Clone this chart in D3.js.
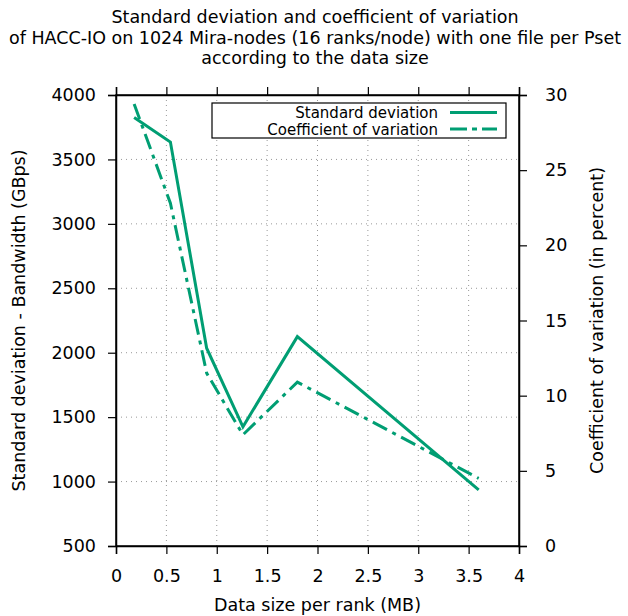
<!DOCTYPE html>
<html>
<head>
<meta charset="utf-8">
<script src="https://cdn.jsdelivr.net/npm/d3@7"></script>
<style>
  body { margin: 0; background: #fff; }
  text { font-family: "DejaVu Sans", sans-serif; fill: #000; }
</style>
</head>
<body>
<div id="chart"></div>
<script>
// data
const dataSize = [0.18, 0.54, 0.9, 1.26, 1.8, 3.6];            // MB per rank
const stdDev = [3825, 3635, 2035, 1425, 2125, 935];             // GBps
const coefVar = [29.4, 22.8, 11.5, 7.4, 10.9, 4.5];             // percent
const xTicks = [0, 0.5, 1, 1.5, 2, 2.5, 3, 3.5, 4];
const yTicks = [500, 1000, 1500, 2000, 2500, 3000, 3500, 4000];
const y2Ticks = [0, 5, 10, 15, 20, 25, 30];
const titleLines = [
  "Standard deviation and coefficient of variation",
  "of HACC-IO on 1024 Mira-nodes (16 ranks/node) with one file per Pset",
  "according to the data size"
];
const seriesNames = ["Standard deviation", "Coefficient of variation"];

const W = 628, H = 616;
const margin = { top: 95, right: 109, bottom: 70, left: 116 };
const width = W - margin.left - margin.right;
const height = H - margin.top - margin.bottom;
const green = "#009e73";
const fs = "17.5px";

const svg = d3.select("#chart").append("svg")
  .attr("width", W).attr("height", H);

// title
svg.append("g").selectAll("text").data(titleLines).enter().append("text")
  .attr("x", W / 2 + 1)
  .attr("y", (d, i) => 23 + i * 20.5)
  .attr("text-anchor", "middle")
  .attr("font-size", fs)
  .text(d => d);

const g = svg.append("g").attr("transform", `translate(${margin.left},${margin.top})`);

const x = d3.scaleLinear().domain([0, 4]).range([0, width]);
const y = d3.scaleLinear().domain([500, 4000]).range([height, 0]);
const y2 = d3.scaleLinear().domain([0, 30]).range([height, 0]);

// dotted grid
g.append("g").selectAll("line").data(xTicks.slice(1, -1)).enter().append("line")
  .attr("x1", d => x(d)).attr("x2", d => x(d))
  .attr("y1", 0).attr("y2", height)
  .attr("stroke", "#999").attr("stroke-width", 1).attr("stroke-dasharray", "1,4");
g.append("g").selectAll("line").data(yTicks.slice(1, -1)).enter().append("line")
  .attr("x1", 0).attr("x2", width)
  .attr("y1", d => y(d)).attr("y2", d => y(d))
  .attr("stroke", "#999").attr("stroke-width", 1).attr("stroke-dasharray", "1,4");

// axes
g.append("g")
  .attr("transform", `translate(0,${height})`)
  .call(d3.axisBottom(x).tickValues(xTicks).tickFormat(d3.format("")).tickSizeOuter(0).tickSize(8).tickPadding(16));
g.append("g")
  .call(d3.axisTop(x).tickValues(xTicks).tickFormat("").tickSizeOuter(0).tickSize(8));
g.append("g")
  .call(d3.axisLeft(y).tickValues(yTicks).tickFormat(d3.format("d")).tickSizeOuter(0).tickSize(8).tickPadding(12));
g.append("g")
  .attr("transform", `translate(${width},0)`)
  .call(d3.axisRight(y2).tickValues(y2Ticks).tickSizeOuter(0).tickSize(8).tickPadding(18));

g.selectAll(".domain").attr("stroke", "#000").attr("stroke-width", 1.5);
g.selectAll(".tick line").attr("stroke", "#000").attr("stroke-width", 1.2);
g.selectAll(".tick text").attr("font-size", fs).attr("font-family", "DejaVu Sans, sans-serif").attr("fill", "#000");

// border
g.append("rect").attr("width", width).attr("height", height)
  .attr("fill", "none").attr("stroke", "#000").attr("stroke-width", 1.5);

// axis labels
svg.append("text")
  .attr("x", margin.left + width / 2).attr("y", 611)
  .attr("text-anchor", "middle").attr("font-size", fs)
  .text("Data size per rank (MB)");
svg.append("text")
  .attr("transform", `translate(25,${margin.top + height / 2}) rotate(-90)`)
  .attr("text-anchor", "middle").attr("font-size", fs)
  .text("Standard deviation - Bandwidth (GBps)");
svg.append("text")
  .attr("transform", `translate(603,${margin.top + height / 2}) rotate(-90)`)
  .attr("text-anchor", "middle").attr("font-size", fs)
  .text("Coefficient of variation (in percent)");

// lines
const sdLine = d3.line().x((d, i) => x(dataSize[i])).y(d => y(d));
const cvLine = d3.line().x((d, i) => x(dataSize[i])).y(d => y2(d));

g.append("path").datum(stdDev)
  .attr("fill", "none").attr("stroke", green).attr("stroke-width", 3)
  .attr("d", sdLine);
g.append("path").datum(coefVar)
  .attr("fill", "none").attr("stroke", green).attr("stroke-width", 3)
  .attr("stroke-dasharray", "16,6,4,6")
  .attr("d", cvLine);

// legend
const leg = svg.append("g");
leg.append("rect")
  .attr("x", 212).attr("y", 103).attr("width", 294).attr("height", 35)
  .attr("fill", "#fff").attr("stroke", "#000").attr("stroke-width", 1.2);
seriesNames.forEach((name, i) => {
  const ly = 112.5 + i * 16.5;
  leg.append("text")
    .attr("x", 438).attr("y", ly + 5.5)
    .attr("text-anchor", "end").attr("font-size", "15px")
    .text(name);
  leg.append("line")
    .attr("x1", 450).attr("x2", 497).attr("y1", ly).attr("y2", ly)
    .attr("stroke", green).attr("stroke-width", 3)
    .attr("stroke-dasharray", i === 1 ? "17,5,5,5" : null);
});
</script>
</body>
</html>
